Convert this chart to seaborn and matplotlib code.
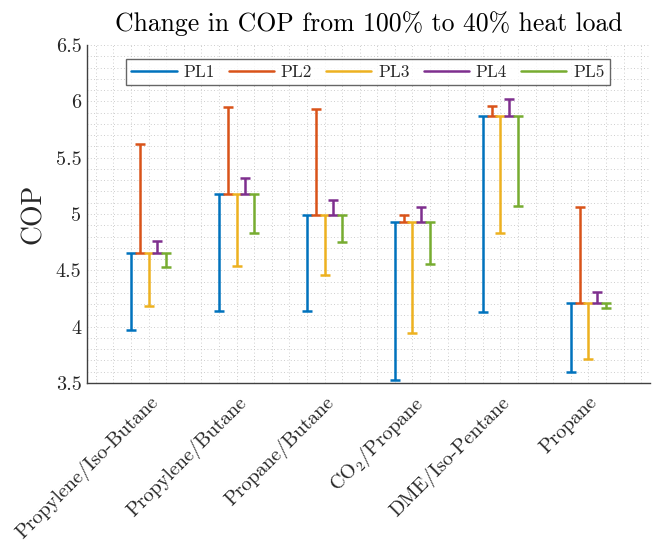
import numpy as np
import matplotlib
matplotlib.use("Agg")
import matplotlib.pyplot as plt
import seaborn as sns
from matplotlib.ticker import MultipleLocator
from matplotlib.lines import Line2D

categories = ["Propylene/Iso-Butane", "Propylene/Butane", "Propane/Butane",
              "CO$_2$/Propane", "DME/Iso-Pentane", "Propane"]
cop_full = [4.65, 5.18, 4.99, 4.93, 5.87, 4.21]
series_names = ["PL1", "PL2", "PL3", "PL4", "PL5"]
pl1 = [3.97, 4.14, 4.14, 3.53, 4.13, 3.60]
pl2 = [5.62, 5.95, 5.93, 4.99, 5.96, 5.06]
pl3 = [4.18, 4.54, 4.46, 3.94, 4.83, 3.71]
pl4 = [4.76, 5.32, 5.12, 5.06, 6.02, 4.31]
pl5 = [4.53, 4.83, 4.75, 4.56, 5.07, 4.17]
series_values = [pl1, pl2, pl3, pl4, pl5]
colors = ["#0072BD", "#D95319", "#EDB120", "#7E2F8E", "#77AC30"]

sns.set_theme(style="white")
plt.rcParams["font.family"] = ["cmr10", "DejaVu Serif"]
plt.rcParams["mathtext.fontset"] = "cm"
plt.rcParams["axes.formatter.use_mathtext"] = True
plt.rcParams["axes.unicode_minus"] = False

fig = plt.figure(figsize=(6.57, 5.43), dpi=100)
ax = fig.add_axes([87/657, 1-383/543, (650-87)/657, (383-45)/543])

x = np.arange(1, len(categories) + 1)
offsets = np.array([-0.2, -0.1, 0.0, 0.1, 0.2])
center = np.array(cop_full)
for k, (name, vals) in enumerate(zip(series_names, series_values)):
    vals = np.array(vals)
    lower = np.clip(center - vals, 0, None)
    upper = np.clip(vals - center, 0, None)
    ax.errorbar(x + offsets[k], center, yerr=[lower, upper], fmt="none",
                ecolor=colors[k], elinewidth=1.8, capsize=3.4, capthick=1.8,
                zorder=3 + k)

ax.set_xlim(0.3, 6.7)
ax.set_ylim(3.5, 6.5)
ax.set_xticks(x)
ax.set_xticklabels(categories, rotation=45, ha="right", rotation_mode="anchor",
                   fontsize=14.5, color="#262626")
ax.set_yticks([3.5, 4, 4.5, 5, 5.5, 6, 6.5])
ax.set_yticklabels(["3.5", "4", "4.5", "5", "5.5", "6", "6.5"], fontsize=14.5,
                   color="#262626")
ax.xaxis.set_minor_locator(MultipleLocator(0.2))
ax.yaxis.set_minor_locator(MultipleLocator(0.1))
ax.tick_params(axis="both", which="major", direction="in", length=4,
               width=0.8, color="#404040", pad=4)
ax.tick_params(axis="both", which="minor", direction="in", length=0)
ax.tick_params(axis="x", which="major", pad=7)
ax.grid(True, which="both", linestyle=(0, (1, 3)), linewidth=0.6,
        color="#bdbdbd", zorder=0)
ax.set_axisbelow(True)
for s in ["top", "right"]:
    ax.spines[s].set_visible(False)
for s in ["left", "bottom"]:
    ax.spines[s].set_color("#404040")
    ax.spines[s].set_linewidth(1.0)

ax.set_ylabel("COP", fontsize=20, color="#262626", labelpad=6)
ax.set_title("Change in COP from 100% to 40% heat load", fontsize=18.5,
             color="black", pad=10)

handles = [Line2D([0], [0], color=c, lw=1.8) for c in colors]
leg = ax.legend(handles, series_names, loc="upper center",
                bbox_to_anchor=(0.499, 0.958), ncol=5,
                frameon=True, fancybox=False, fontsize=12.5,
                handlelength=2.6, columnspacing=0.8, handletextpad=0.4,
                borderpad=0.3, borderaxespad=0.0, edgecolor="#404040")
leg.get_frame().set_linewidth(1.0)

fig.savefig("out.png", dpi=100)
